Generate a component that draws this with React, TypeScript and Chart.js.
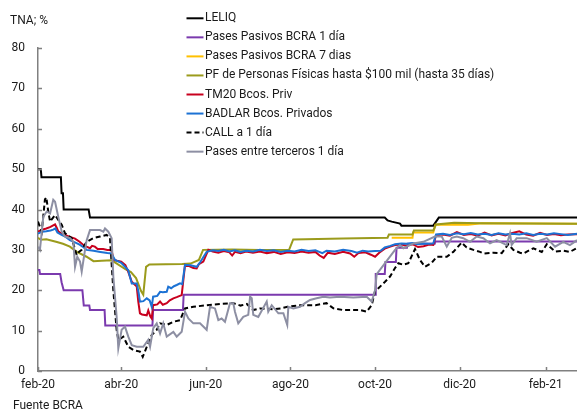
import React, { useEffect, useRef } from 'react';
import { Chart, registerables } from 'chart.js';

Chart.register(...registerables);

// ---- axis data ----
const BASE_DATE = '2020-02-01'; // day 0 of the x axis
const X_MAX_DAY = 388.6;
const tickDays = [0, 60, 121, 182, 243, 304, 366];
const tickLabels = ['feb-20', 'abr-20', 'jun-20', 'ago-20', 'oct-20', 'dic-20', 'feb-21'];
const yTickValues = [0, 10, 20, 30, 40, 50, 60, 70, 80];
const yAxisTitle = 'TNA; %';
const sourceNote = 'Fuente BCRA';

const seriesNames = [
  'LELIQ',
  'Pases Pasivos BCRA 1 día',
  'Pases Pasivos BCRA 7 dias',
  'PF de Personas Físicas hasta $100 mil (hasta 35 días)',
  'TM20 Bcos. Priv',
  'BADLAR Bcos. Privados',
  'CALL a 1 día',
  'Pases entre terceros 1 día',
];

// ---- series (days since BASE_DATE, value in %) ----
const leliqDays = [0, 2, 2.5, 16.5, 17, 18, 18.5, 36.5, 37.5, 250, 252, 255, 261, 262, 285, 287, 289, 388.6];
const leliqVals = [50, 50, 48, 48, 44, 44, 40, 40, 38, 38, 37.3, 37, 36.5, 36, 36, 37, 38, 38];

const pase1Days = [0, 1, 1.5, 16, 17, 18.5, 32, 33, 37, 37.5, 48, 48.5, 82.5, 83, 104.5, 105, 243, 243.5, 250, 250.5, 258, 258.5, 266, 266.5, 286, 286.5, 388.6];
const pase1Vals = [25, 25, 24, 24, 22, 20, 20, 16.2, 16.2, 15.1, 15.1, 11.3, 11.3, 15.1, 15.1, 18.9, 18.9, 24, 24, 27, 27, 30.5, 30.5, 31.5, 31.5, 32.1, 32.1];

const pase7Days = [255, 270, 270.5, 285, 286.5, 310, 320, 388.6];
const pase7Vals = [33, 33, 34.3, 34.3, 36.2, 36.2, 36.6, 36.5];

const pfDays = [0, 2, 6, 13, 18, 23, 28, 35, 40, 46, 53, 56, 63, 67, 70.7, 74.3, 75.9, 77.9, 80.3, 104, 110, 116, 119, 140, 160, 181, 184, 220, 252, 253, 270, 271, 285, 287, 300, 320, 388.6];
const pfVals = [33, 32.5, 32.6, 32, 31.5, 30.8, 29.5, 28.3, 27.2, 27.3, 27.4, 26.8, 25.2, 24.5, 23, 19.8, 18.9, 25.8, 26.4, 26.5, 26.6, 27.5, 30, 30.1, 30, 30, 32.6, 32.8, 33, 33.8, 33.8, 34.8, 34.8, 36.3, 36.7, 36.6, 36.5];

const tm20Days = [0, 3, 6, 9, 12.3, 13.5, 14.6, 17, 19.5, 23, 26.7, 30, 32.7, 35, 37.5, 39, 41, 43, 47, 50, 53, 54.5, 57, 60, 63, 65, 67.6, 71.2, 72.3, 73.5, 75, 78.4, 79.5, 81, 82, 83, 86, 88, 90, 92.8, 95, 97.6, 100, 103.6, 106, 109, 112, 114.4, 116, 119.2, 122.8, 126, 130, 134, 138, 140, 142, 146, 150, 155, 160, 165, 170, 175, 180, 185, 190, 195, 200, 203, 206, 209, 214, 220, 225, 228, 231, 236, 240, 243, 246, 250, 254, 257.4, 262, 266, 270, 274, 278, 282, 285, 287, 292, 297, 302, 307, 312, 317, 322, 327, 332, 337, 342, 347, 352, 357, 362, 367, 372, 377, 382, 388.6];
const tm20Vals = [34.5, 35, 35.3, 35.7, 36.3, 35.5, 34.6, 34, 33.7, 33.2, 32.8, 32, 31.2, 30.8, 30.4, 31, 30.8, 30.2, 30.2, 30, 30, 27.5, 27.3, 27.1, 26.2, 24.6, 22.1, 20.9, 17.2, 14.3, 14, 13.8, 15, 13.5, 13, 16.3, 16.5, 17.2, 16.4, 16.8, 17.5, 18, 18.3, 18.8, 26.3, 26, 25.5, 25.4, 26.5, 27.1, 30, 29.6, 29.3, 29.7, 29.4, 28.6, 29.5, 29.2, 29.6, 29.3, 29.6, 29.2, 29.5, 29, 29.4, 29.2, 29.6, 29.3, 29.5, 28.6, 28, 29.3, 29, 29.5, 29.1, 28.3, 29.2, 29.4, 28.8, 28.3, 29.3, 30.3, 30.8, 31.2, 31.3, 31, 31.4, 30.7, 30.9, 31.3, 31.2, 33.6, 33.8, 33.5, 34.4, 33.7, 33.9, 33.5, 34.3, 33.6, 34, 33.6, 34.2, 34.6, 33.8, 33.5, 34.2, 33.7, 33.9, 33.6, 33.8, 33.9];

const badlarDays = [0, 3, 6, 9, 11, 12.5, 14, 17, 20, 23, 27, 30, 33, 35, 40, 45, 50, 53, 55.5, 60, 65, 67.6, 71.2, 72.5, 73.5, 76, 78.4, 80.5, 82, 83, 86, 88, 90, 92.8, 93.9, 96, 98, 100, 102.4, 104, 106, 110, 114.4, 117, 121.6, 126, 130, 134, 138, 142, 146, 150, 155, 160, 165, 170, 175, 180, 185, 190, 195, 200, 205, 208, 214, 220, 226, 230, 234, 238, 243, 247, 250, 254, 257.4, 262, 266, 270, 274, 278, 282, 285, 287, 292, 297, 302, 307, 312, 317, 322, 327, 332, 337, 342, 347, 352, 357, 362, 367, 372, 377, 382, 388.6];
const badlarVals = [34, 34.5, 34.6, 34.8, 35, 35.3, 34.3, 33.7, 33.2, 32.4, 31.8, 31.3, 30.6, 30, 29.8, 29.5, 29.2, 29.1, 27.5, 26.8, 25, 21.7, 21.7, 19.5, 17.2, 17.3, 18, 17.5, 15.9, 18.4, 18.6, 19.6, 19.5, 19.6, 20.9, 20.5, 21, 21.3, 21.7, 21.5, 26.3, 26.2, 25.8, 27, 29.5, 29.9, 29.7, 30, 29.6, 29.9, 29.5, 29.8, 29.6, 30, 29.7, 29.9, 29.5, 29.8, 29.6, 30, 29.7, 29.9, 29.2, 29.8, 29.6, 30, 29.7, 29.3, 29.8, 29.6, 29.7, 29.8, 30.6, 31, 31.4, 31.6, 31.5, 31.7, 31.4, 31.6, 31.5, 31.6, 33.8, 34, 33.7, 34.1, 33.9, 34.2, 33.8, 34, 33.7, 34.1, 33.8, 34, 33.8, 34.1, 33.7, 34, 33.8, 34.1, 33.9, 33.7, 34];

const callDays = [0, 2.7, 5, 6, 7.4, 8.7, 12.3, 17.1, 19.5, 24.3, 27.9, 29.5, 31.5, 35.1, 39.9, 44.7, 49.5, 51.9, 54.3, 56.7, 57.9, 61.5, 65.1, 68.7, 73.5, 75.5, 78.4, 82, 85.6, 88, 92.8, 97.6, 102.4, 106, 112, 121.6, 131.2, 140.8, 146, 150.5, 155, 160, 170, 175, 180, 189, 200, 208, 213, 220, 232, 237, 240.6, 243, 245.4, 250.2, 253.8, 257.4, 259.8, 263.4, 267, 271.8, 275.4, 279, 283.9, 287.5, 294.7, 299.4, 305.5, 309, 313.9, 318.7, 321.1, 328.3, 334.3, 339.1, 342.7, 347.5, 349.9, 354.7, 357.1, 363.2, 366.8, 372.8, 378.7, 383.5, 388.6];
const callVals = [37, 34.5, 42.5, 43, 39.5, 37, 38.6, 36.2, 34.1, 32.9, 28.7, 29.5, 30, 32, 32.9, 33.3, 33.7, 32.9, 20, 10.2, 7.7, 8.5, 6, 5.2, 4.8, 3.5, 6, 8.9, 10.2, 11.8, 11.4, 12.2, 12.6, 15.5, 15.9, 16.3, 16.6, 16.8, 16.2, 16.6, 15.1, 15.5, 15.3, 15.5, 15.9, 16.3, 16.3, 16.8, 15.5, 15.1, 15.1, 14.7, 16.3, 19.8, 20.5, 22.1, 23.4, 25.5, 26.7, 26.3, 26.7, 30.2, 27.5, 25.8, 26.8, 28.3, 28.3, 29.5, 31.8, 30.6, 30, 29.5, 29.1, 29.3, 29.2, 31.4, 30, 29.3, 29.1, 30, 30.4, 29.5, 31.4, 29.6, 29.8, 29.5, 30.5];

const terceDays = [0, 1.4, 3.8, 6.3, 8.7, 11, 12.3, 14.6, 17.1, 19.5, 23.1, 25.5, 26.7, 28.3, 30.3, 31.5, 33.9, 35.1, 37.5, 44.7, 47.1, 48.3, 50.7, 53.1, 54.3, 56.7, 57.9, 60.3, 62.7, 65.1, 67.6, 71.2, 75.9, 79.5, 80.8, 83.1, 85.6, 88, 90.3, 92.8, 97.6, 100, 103.6, 106, 108.4, 112, 116.8, 121.6, 124, 127.6, 130, 132.4, 134.8, 138.4, 140.8, 142, 144.4, 148, 151.6, 152.9, 154.1, 155.2, 158.8, 164.9, 166, 168.5, 173.3, 176.9, 179.7, 180.5, 184.1, 188.9, 192.5, 196.1, 200.9, 205.7, 210.5, 217.7, 227.3, 237, 240.6, 243, 244.2, 250.2, 257.4, 261, 263.4, 270.6, 277.8, 286.2, 291.1, 294.7, 298.3, 301.9, 306.6, 311.5, 316.3, 321.1, 325.9, 330.7, 337.9, 340.3, 341.5, 345.1, 352.3, 359.5, 366.8, 372.8, 378.7, 383.5, 388.6];
const terceVals = [30.8, 30, 38.2, 39.5, 39, 42.4, 41.9, 38.2, 34.5, 33.3, 32.9, 32, 25.8, 28.3, 27.1, 24.6, 30, 32.4, 34.9, 34.9, 34.5, 35.3, 34.5, 32.9, 23.4, 13.4, 5.6, 10.2, 11, 8.5, 6.4, 6, 6, 7.7, 6, 10.6, 11.8, 9.3, 11.8, 8.5, 9.7, 8.5, 9.7, 14.7, 13, 11.8, 11.8, 10.2, 15.9, 15.5, 12.6, 13, 12.2, 16.8, 16.8, 14.7, 11.8, 13.4, 13.9, 18.4, 18, 13.9, 13.4, 17.2, 14.7, 16.3, 14.3, 14.3, 11.4, 15.9, 15.5, 15.9, 16.8, 17.6, 18, 18.4, 18.2, 18.4, 18.2, 18.4, 17.2, 20, 24, 26.7, 30, 31.2, 30.4, 31.6, 32, 33.3, 33.3, 30.8, 33, 33.3, 32.9, 32, 33.3, 32.9, 31.6, 32.4, 31.2, 34.1, 31.2, 32.9, 32.9, 32, 32.9, 30.8, 32, 31.2, 32.4];

const seriesColors = ['#000000', '#7B3AAE', '#FFC000', '#9B9B1C', '#C8001E', '#1C72D4', '#000000', '#8D8FA3'];
const seriesDash: number[][] = [[], [], [], [], [], [], [5, 3], []];

const seriesDays = [leliqDays, pase1Days, pase7Days, pfDays, tm20Days, badlarDays, callDays, terceDays];
const seriesVals = [leliqVals, pase1Vals, pase7Vals, pfVals, tm20Vals, badlarVals, callVals, terceVals];

const FONT = '12px Roboto';
const TEXT_COLOR = '#1a1a1a';
const AXIS_COLOR = '#808080';

const decorPlugin = {
  id: 'decor',
  afterDraw(chart: any) {
    const { ctx, chartArea: a, scales } = chart;
    const x = scales.x;
    const y = scales.y;
    ctx.save();
    // inward tick marks
    ctx.strokeStyle = AXIS_COLOR;
    ctx.lineWidth = 1.5;
    ctx.beginPath();
    yTickValues.forEach((v) => {
      const py = Math.round(y.getPixelForValue(v)) + 0.5;
      ctx.moveTo(a.left, py);
      ctx.lineTo(a.left + 4, py);
    });
    tickDays.forEach((d) => {
      const px = Math.round(x.getPixelForValue(d)) + 0.5;
      ctx.moveTo(px, a.bottom);
      ctx.lineTo(px, a.bottom - 4);
    });
    ctx.stroke();

    // texts
    ctx.fillStyle = TEXT_COLOR;
    ctx.font = FONT;
    ctx.textBaseline = 'middle';
    ctx.textAlign = 'left';
    ctx.fillText(yAxisTitle, 10, 20.5);
    ctx.fillText(sourceNote, 13, 405.5);

    // legend
    seriesNames.forEach((name, i) => {
      const cy = 18.3 + i * 19.05;
      ctx.beginPath();
      ctx.strokeStyle = seriesColors[i];
      ctx.lineWidth = 2;
      ctx.setLineDash(seriesDash[i]);
      ctx.moveTo(186.5, cy);
      ctx.lineTo(203.5, cy);
      ctx.stroke();
      ctx.setLineDash([]);
      ctx.fillStyle = TEXT_COLOR;
      ctx.fillText(name, 205, cy);
    });
    ctx.restore();
  },
};

export default function App() {
  const canvasRef = useRef<HTMLCanvasElement | null>(null);

  useEffect(() => {
    document.body.style.margin = '0';
    const canvas = canvasRef.current;
    if (!canvas) return;
    const datasets = seriesNames.map((name, i) => ({
      label: name,
      data: seriesDays[i].map((d, k) => ({ x: d, y: seriesVals[i][k] })),
      borderColor: seriesColors[i],
      backgroundColor: seriesColors[i],
      borderWidth: 2,
      borderDash: seriesDash[i],
      pointRadius: 0,
      tension: 0,
      fill: false,
      order: seriesNames.length - i,
    }));

    const chart = new Chart(canvas, {
      type: 'line',
      data: { datasets },
      plugins: [decorPlugin],
      options: {
        animation: false,
        responsive: false,
        devicePixelRatio: 1,
        layout: { padding: { top: 48, left: 0, right: 0, bottom: 0 } },
        plugins: { legend: { display: false }, tooltip: { enabled: false } },
        scales: {
          x: {
            type: 'linear',
            min: 0,
            max: X_MAX_DAY,
            grid: { display: false, drawTicks: false },
            border: { display: true, color: AXIS_COLOR, width: 1.5 },
            afterBuildTicks: (axis: any) => {
              axis.ticks = tickDays.map((v) => ({ value: v }));
            },
            afterFit: (axis: any) => {
              axis.height = 42;
              axis.paddingLeft = 0;
              axis.paddingRight = 0;
            },
            ticks: {
              autoSkip: false,
              maxRotation: 0,
              minRotation: 0,
              padding: 7,
              color: TEXT_COLOR,
              font: { family: 'Roboto', size: 12 },
              callback: (value: any) => {
                const i = tickDays.indexOf(Number(value));
                return i >= 0 ? tickLabels[i] : '';
              },
            },
          },
          y: {
            min: 0,
            max: 80,
            grid: { display: false, drawTicks: false },
            border: { display: true, color: AXIS_COLOR, width: 1.5 },
            afterFit: (axis: any) => {
              axis.width = 38;
            },
            ticks: {
              stepSize: 10,
              padding: 13,
              color: TEXT_COLOR,
              font: { family: 'Roboto', size: 12 },
            },
          },
        },
      },
    });
    return () => chart.destroy();
  }, []);

  return (
    <div style={{ width: 577, height: 413 }}>
      <canvas ref={canvasRef} width={577} height={413} style={{ display: 'block' }} />
    </div>
  );
}
